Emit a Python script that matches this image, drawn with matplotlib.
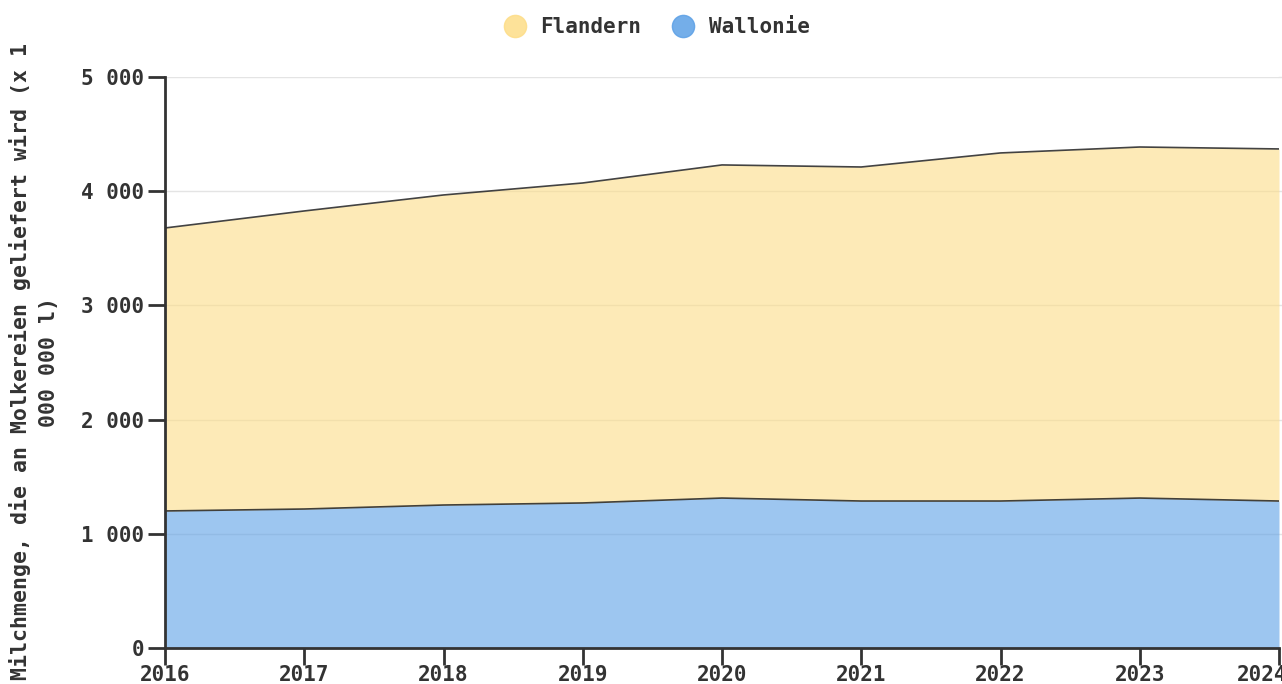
import matplotlib
matplotlib.use("Agg")
import matplotlib.pyplot as plt
from matplotlib.lines import Line2D
import matplotlib.transforms as mtransforms
import numpy as np

years = [2016, 2017, 2018, 2019, 2020, 2021, 2022, 2023, 2024]
wallonie = [1200, 1217, 1252, 1270, 1313, 1287, 1287, 1313, 1287]
flandern = [2478, 2610, 2715, 2802, 2917, 2925, 3048, 3074, 3083]
y_ticks = [0, 1000, 2000, 3000, 4000, 5000]
y_tick_labels = ["0", "1 000", "2 000", "3 000", "4 000", "5 000"]
series_names = ["Flandern", "Wallonie"]
ylabel = "Milchmenge, die an Molkereien geliefert wird (x 1\n000 000 l)"

col_fl = "#fddd87"
col_wa = "#5ca0e6"
txt = "#333333"
font = "DejaVu Sans Mono"

fig = plt.figure(figsize=(12.82, 6.84), dpi=100)
ax = fig.add_axes([165/1282, 36/684, 1114/1282, 571/684])

x = np.array(years)
w = np.array(wallonie)
f = np.array(flandern)
total = w + f

ax.fill_between(x, 0, w, color=col_wa, alpha=0.6, linewidth=0, zorder=2)
ax.fill_between(x, w, total, color=col_fl, alpha=0.6, linewidth=0, zorder=2)
ax.plot(x, w, color="#222222", lw=1.2, alpha=0.85, zorder=3)
ax.plot(x, total, color="#222222", lw=1.2, alpha=0.85, zorder=3)

ax.set_xlim(2016, 2024)
ax.set_ylim(0, 5000)
ax.set_yticks(y_ticks)
ax.set_yticklabels(y_tick_labels)
ax.set_xticks(years)
ax.set_xticklabels([str(y) for y in years])

for lbl in ax.get_xticklabels() + ax.get_yticklabels():
    lbl.set_fontfamily(font)
    lbl.set_fontweight("bold")
    lbl.set_fontsize(15)
    lbl.set_color(txt)

ax.tick_params(axis="both", length=12, width=2, color=txt, direction="out")
ax.tick_params(axis="y", pad=3)
ax.tick_params(axis="x", pad=0)

# shift the last x tick label left so it mostly stays inside the figure
last = ax.get_xticklabels()[-1]
last.set_transform(last.get_transform() +
                   mtransforms.ScaledTranslation(-17/100, 0, fig.dpi_scale_trans))

ax.grid(axis="y", color="#e4e4e4", lw=1, zorder=1)
ax.set_axisbelow(True)
for s in ["top", "right"]:
    ax.spines[s].set_visible(False)
for s in ["left", "bottom"]:
    ax.spines[s].set_color(txt)
    ax.spines[s].set_linewidth(2)
    ax.spines[s].set_zorder(4)
ax.spines["left"].set_bounds(0, 5000)

for yt in y_ticks[1:]:
    ax.plot([2024, 2024.03], [yt, yt], color="#e4e4e4", lw=1, clip_on=False, zorder=1)

fig.text(34/1282, 1 - 362/684, ylabel, rotation=90, ha="center", va="center",
         family=font, fontweight="bold", fontsize=15.5, color=txt,
         multialignment="center", linespacing=1.45)

handles = [Line2D([], [], marker="o", linestyle="", markersize=16,
                  markerfacecolor=c, markeredgecolor=c, alpha=a)
           for c, a in [(col_fl, 0.85), (col_wa, 0.85)]]
leg = fig.legend(handles, series_names, loc="center", bbox_to_anchor=(652/1282, 1 - 27/684),
                 ncol=2, frameon=False, handletextpad=0.25, columnspacing=1.0,
                 prop={"family": font, "weight": "bold", "size": 15})
for t in leg.get_texts():
    t.set_color(txt)

fig.savefig("out.png", dpi=100)
